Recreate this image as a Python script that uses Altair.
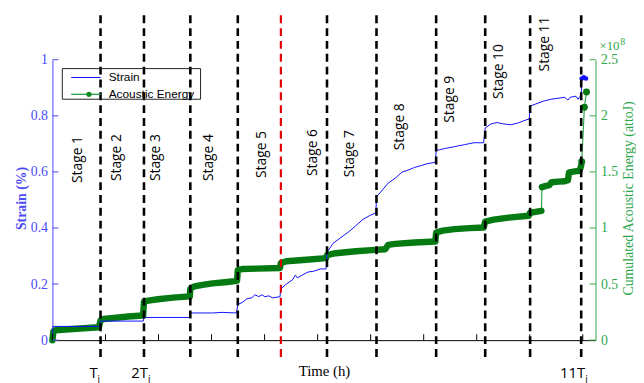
import altair as alt
import pandas as pd

# ---------------- data ----------------
# time axis: unlabeled ticks every 10 units
time_ticks = [0, 10, 20, 30, 40, 50, 60, 70, 80, 90, 100]

strain_t = [0, 0.09, 8.94, 9.07, 17.13, 17.26, 25.88, 26.0, 30.2, 32.0, 34.7,
            34.95, 35.75, 36.7, 37.6, 38.2, 38.9, 39.5, 40.05, 40.8, 41.5, 42.9,
            43.07, 44.1, 45.25, 45.8, 46.2, 47.1, 48.2, 49.3, 50.5, 51.6,
            51.77, 52.9, 54.4, 55.9, 57.2, 58.5, 59.8, 61.0,
            61.1, 62.2, 63.3, 64.6, 65.9, 67.0, 68.3, 69.6, 70.8, 72.2,
            72.35, 73.9, 75.8, 77.65, 79.5, 81.3,
            81.6, 82.7, 83.8, 85.1, 86.4, 87.9, 88.8, 89.9,
            90.07, 91.1, 92.55, 94.0, 95.5, 96.6, 97.2, 97.6, 98.7, 99.1, 99.4, 99.7,
            99.8, 100.2, 100.6]
strain_v = [0, 0.049, 0.049, 0.068, 0.068, 0.081, 0.081, 0.097, 0.097, 0.099, 0.097,
            0.127, 0.134, 0.148, 0.151, 0.162, 0.155, 0.162, 0.155, 0.158, 0.151, 0.155,
            0.183, 0.200, 0.215, 0.232, 0.222, 0.232, 0.243, 0.246, 0.254, 0.254,
            0.313, 0.345, 0.366, 0.387, 0.408, 0.430, 0.444, 0.454,
            0.511, 0.535, 0.560, 0.577, 0.599, 0.606, 0.616, 0.623, 0.630, 0.634,
            0.676, 0.683, 0.690, 0.697, 0.704, 0.704,
            0.757, 0.771, 0.776, 0.771, 0.768, 0.775, 0.782, 0.789,
            0.835, 0.842, 0.852, 0.859, 0.863, 0.866, 0.856, 0.866, 0.870, 0.859, 0.868, 0.870,
            0.933, 0.937, 0.933]

# cumulated acoustic energy (x 10^8 attoJ)
energy_t = [0, 0.19, 0.56, 3.17, 5.96, 8.75,
            9.07, 9.68, 11.55, 14.3, 17.1,
            17.26, 18.06, 19.9, 22.7, 25.9,
            26.0, 26.8, 28.3, 30.2, 33.0, 34.8,
            34.95, 35.75, 38.5, 42.9,
            43.07, 44.1, 47.9, 51.6,
            51.77, 53.4, 57.2, 60.9, 62.75,
            63.3, 64.6, 68.3, 72.2,
            72.35, 73.6, 75.8, 78.6, 81.3,
            81.6, 83.2, 86.0, 89.8,
            90.07, 91.1, 92.2,
            92.3, 92.9, 93.7, 94.1, 95.4, 96.6, 97.2, 97.4, 98.5, 99.4, 99.7,
            99.8, 100.3, 100.7]
energy_v = [0, 0.079, 0.088, 0.097, 0.106, 0.115,
            0.176, 0.189, 0.198, 0.211, 0.220,
            0.343, 0.352, 0.365, 0.379, 0.390,
            0.458, 0.480, 0.493, 0.506, 0.519, 0.528,
            0.625, 0.634, 0.638, 0.643,
            0.687, 0.704, 0.717, 0.731,
            0.757, 0.775, 0.792, 0.805, 0.810,
            0.849, 0.858, 0.871, 0.880,
            0.960, 0.977, 0.990, 0.999, 1.004,
            1.056, 1.074, 1.092, 1.109,
            1.136, 1.144, 1.153,
            1.364, 1.373, 1.382, 1.408, 1.413, 1.417, 1.426, 1.496, 1.505, 1.510, 1.558,
            1.590, 2.077, 2.212]
# recording run of each energy sample: 0 and 1 are dense runs, 2 are isolated samples
energy_run = [0] * 51 + [1] * 11 + [2] * 3

stage_bounds = [9.07, 17.26, 26.0, 34.95, 43.07, 51.77, 61.1, 72.35, 81.6, 90.07, 99.7]
highlight_bound = 4  # the red boundary
stage_names = ["Stage 1", "Stage 2", "Stage 3", "Stage 4", "Stage 5", "Stage 6",
               "Stage 7", "Stage 8", "Stage 9", "Stage 10", "Stage 11"]
stage_label_t = [4.84, 12.1, 19.55, 29.6, 39.5, 49.2, 56.2, 65.5, 74.9, 84.2, 92.9]
stage_label_s = [0.644, 0.651, 0.651, 0.651, 0.662, 0.669, 0.665, 0.761, 0.859, 0.958, 1.056]

period_labels = ["T", "2T", "11T"]
period_bound_index = [0, 1, 10]

strain_ticks = [0, 0.2, 0.4, 0.6, 0.8, 1]
energy_ticks = [0, 0.5, 1, 1.5, 2, 2.5]

# ---------------- styling ----------------
W, H = 550, 284
BLUE_LINE = "#1010ff"
BLUE_AXIS = "#4b4bf5"
GREEN_DARK = "#067a12"
GREEN_AXIS = "#2ea64c"
SERIF = "Liberation Serif"
SANS = "Open Sans"

xscale = alt.Scale(domain=[0, 102.4], nice=False, zero=False)
xaxis = alt.Axis(labels=False, ticks=False, grid=False, domainColor="black",
                 domainWidth=1, title="Time (h)", titleFont=SERIF, titleFontSize=15,
                 titleFontWeight="normal", titleColor="black", titleY=31,
                 titleBaseline="middle")
X = alt.X("t:Q", scale=xscale, axis=xaxis)

sscale = alt.Scale(domain=[0, 1], nice=False)
escale = alt.Scale(domain=[0, 2.5], nice=False)

strain_df = pd.DataFrame({"t": strain_t, "s": strain_v})
energy_df = pd.DataFrame({"t": energy_t, "e": energy_v, "run": energy_run})

left_axis = alt.Axis(values=strain_ticks, labelExpr="datum.value", ticks=False,
                     grid=False, domainColor=BLUE_AXIS, labelColor=BLUE_AXIS,
                     labelFont=SERIF, labelFontSize=14, labelPadding=5,
                     title="Strain (%)", titleColor=BLUE_AXIS, titleFont=SERIF,
                     titleFontSize=14, titleFontWeight="bold", titleAngle=270,
                     titleX=-31, titleY=140, titleBaseline="middle",
                     titleAlign="center", orient="left")
right_axis = alt.Axis(values=energy_ticks, labelExpr="datum.value", ticks=False,
                      grid=False, domainColor=GREEN_AXIS, labelColor=GREEN_AXIS,
                      labelFont=SERIF, labelFontSize=14, labelPadding=5,
                      labelOverlap=False,
                      title="Cumulated Acoustic Energy (attoJ)", titleColor=GREEN_AXIS,
                      titleFont=SERIF, titleFontSize=14, titleFontWeight="normal",
                      titleAngle=270, titleX=33, titleY=140, titleBaseline="middle",
                      titleAlign="center", orient="right")

# ---- energy group ----
E = alt.Y("e:Q", scale=escale, axis=right_axis)
e_thin = alt.Chart(energy_df).mark_line(color=GREEN_AXIS, strokeWidth=1.2).encode(
    x=X, y=E, order="t:Q")
e_thick = alt.Chart(energy_df).transform_filter("datum.run < 2").mark_line(
    color=GREEN_DARK, strokeWidth=6.5, strokeCap="round", strokeJoin="round").encode(
    x=X, y=E, detail="run:N", order="t:Q")
e_pts = alt.Chart(energy_df).transform_filter("datum.run == 2").mark_circle(
    color=GREEN_DARK, size=50, opacity=1).encode(x=X, y=E)
e_ticks = alt.Chart(pd.DataFrame({"e": energy_ticks})).mark_rule(
    color=GREEN_AXIS, strokeWidth=1).encode(
    y=E, x=alt.value(W), x2=alt.value(W - 6))
energy_group = alt.layer(e_thin, e_thick, e_pts, e_ticks)

# ---- strain group ----
S = alt.Y("s:Q", scale=sscale, axis=left_axis)
s_line = alt.Chart(strain_df).mark_line(color=BLUE_LINE, strokeWidth=1).encode(
    x=X, y=S, order="t:Q")
s_end = alt.Chart(strain_df.tail(3)).mark_circle(color=BLUE_LINE, size=22,
                                                 opacity=1).encode(x=X, y=S)
s_ticks = alt.Chart(pd.DataFrame({"s": strain_ticks})).mark_rule(
    color=BLUE_AXIS, strokeWidth=1).encode(
    y=S, x=alt.value(0), x2=alt.value(6))
x_ticks = alt.Chart(pd.DataFrame({"t": time_ticks})).mark_rule(
    color="black", strokeWidth=1).encode(
    x=X, y=alt.value(H), y2=alt.value(H - 6))
strain_group = alt.layer(s_line, s_end, s_ticks, x_ticks)

# ---- overlay group (stage boundaries, labels, legend) ----
bounds_df = pd.DataFrame({"t": stage_bounds,
                          "hl": [i == highlight_bound for i in range(len(stage_bounds))]})
O = alt.Y("s:Q", scale=sscale, axis=None)
b_black = alt.Chart(bounds_df).transform_filter("!datum.hl").mark_rule(
    color="black", strokeWidth=2.6, strokeDash=[8, 5]).encode(
    x=X, y=alt.value(-45), y2=alt.value(305))
b_red = alt.Chart(bounds_df).transform_filter("datum.hl").mark_rule(
    color="#e00000", strokeWidth=2.2, strokeDash=[8, 5]).encode(
    x=X, y=alt.value(-45), y2=alt.value(305))
labels_df = pd.DataFrame({"t": stage_label_t, "s": stage_label_s, "name": stage_names})
stage_text = alt.Chart(labels_df).mark_text(
    angle=270, align="center", baseline="middle", font=SANS, fontSize=14,
    color="black").encode(x=X, y=O, text="name:N")

period_layers = []
period_dx = [-3, 4, 4]
for lab, bi, dx in zip(period_labels, period_bound_index, period_dx):
    d = pd.DataFrame({"t": [stage_bounds[bi]], "lab": [lab]})
    period_layers.append(alt.Chart(d).mark_text(
        align="right", baseline="alphabetic", font=SANS, fontSize=15, color="black",
        dx=dx).encode(x=X, y=alt.value(322), text="lab:N"))
    period_layers.append(alt.Chart(d).mark_text(
        align="left", baseline="alphabetic", font=SANS, fontSize=10, color="black",
        dx=dx).encode(x=X, y=alt.value(327), text=alt.value("i")))

one = pd.DataFrame({"k": [0]})
legend_box = alt.Chart(one).mark_rect(fillOpacity=0, stroke="#222222",
                                      strokeWidth=1).encode(
    x=alt.value(10), x2=alt.value(150), y=alt.value(9), y2=alt.value(40))
leg_blue = alt.Chart(one).mark_rule(color=BLUE_LINE, strokeWidth=1).encode(
    x=alt.value(19), x2=alt.value(49), y=alt.value(18))
leg_green = alt.Chart(one).mark_rule(color="#139a33", strokeWidth=1.2).encode(
    x=alt.value(19), x2=alt.value(49), y=alt.value(35))
leg_dot = alt.Chart(one).mark_circle(color="#0a8a22", size=28, opacity=1).encode(
    x=alt.value(37), y=alt.value(35))
leg_t1 = alt.Chart(one).mark_text(align="left", baseline="middle",
                                  font="Liberation Sans", fontSize=12,
                                  color="black").encode(
    x=alt.value(57), y=alt.value(18), text=alt.value("Strain"))
leg_t2 = alt.Chart(one).mark_text(align="left", baseline="middle",
                                  font="Liberation Sans", fontSize=12,
                                  color="black").encode(
    x=alt.value(57), y=alt.value(35), text=alt.value("Acoustic Energy"))
exp_a = alt.Chart(one).mark_text(align="left", baseline="alphabetic", font=SERIF,
                                 fontSize=13, color=GREEN_AXIS).encode(
    x=alt.value(W + 4), y=alt.value(-10), text=alt.value("×10"))
exp_b = alt.Chart(one).mark_text(align="left", baseline="alphabetic", font=SERIF,
                                 fontSize=10, color=GREEN_AXIS).encode(
    x=alt.value(W + 25), y=alt.value(-15), text=alt.value("8"))

overlay_group = alt.layer(b_black, b_red, stage_text, *period_layers,
                          legend_box, leg_blue, leg_green, leg_dot, leg_t1, leg_t2,
                          exp_a, exp_b)

chart = alt.layer(energy_group, strain_group, overlay_group).resolve_scale(
    y="independent").properties(
    width=W, height=H,
    autosize=alt.AutoSizeParams(type="none"),
    padding={"left": 45, "top": 50, "right": 41, "bottom": 41},
    background="white",
).configure_view(stroke=None)

chart.save("out.html", embed_options={"renderer": "svg", "actions": False})
